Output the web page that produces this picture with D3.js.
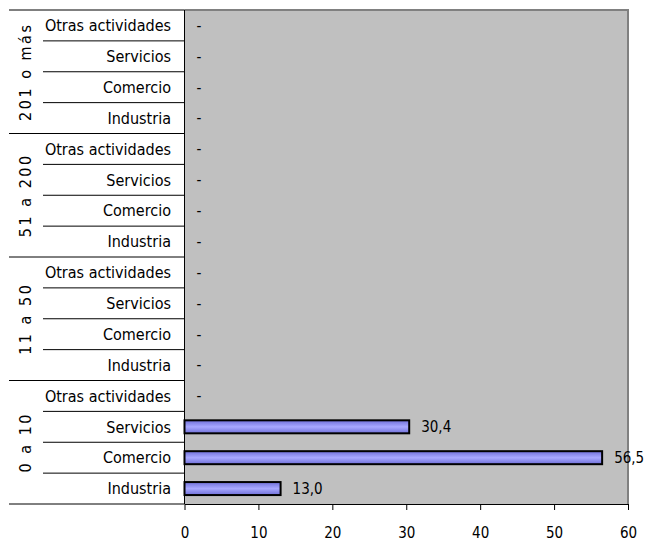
<!DOCTYPE html>
<html lang="es"><head><meta charset="UTF-8">
<title>Empresas por tamaño y actividad</title>
<script src="https://cdn.jsdelivr.net/npm/d3@7"></script>
<style>
  body { margin: 0; background: #fff; }
  text { font-family: "DejaVu Sans Condensed", "DejaVu Sans", sans-serif; font-size: 15px; fill: #000; }
</style>
</head>
<body>
<script>
// groups from top to bottom, categories from top to bottom within a group
var groups = ["201 o más", "51 a 200", "11 a 50", "0 a 10"];
var categories = ["Otras actividades", "Servicios", "Comercio", "Industria"];
// values per group, same order as categories
var values = {
  "201 o más": [0, 0, 0, 0],
  "51 a 200": [0, 0, 0, 0],
  "11 a 50": [0, 0, 0, 0],
  "0 a 10": [0, 30.4, 56.5, 13.0]
};
var xTicks = [0, 10, 20, 30, 40, 50, 60];

var w = 645, h = 542;
// plot area edges
var pLeft = 184.5, pRight = 628, pTop = 10, pBottom = 504;

var rows = [];
groups.forEach(function(g) {
  categories.forEach(function(c, i) {
    rows.push({ key: g + "|" + c, group: g, cat: c, value: values[g][i] });
  });
});

var svg = d3.select("body").append("svg")
  .attr("width", w).attr("height", h);

var defs = svg.append("defs");
var grad = defs.append("linearGradient").attr("id", "barGrad")
  .attr("x1", 0).attr("y1", 0).attr("x2", 0).attr("y2", 1);
grad.append("stop").attr("offset", "0%").attr("stop-color", "#6f6fd8");
grad.append("stop").attr("offset", "50%").attr("stop-color", "#a8a8ff");
grad.append("stop").attr("offset", "100%").attr("stop-color", "#6f6fd8");

var x = d3.scaleLinear().domain([0, 60]).range([pLeft, pRight]);
var y = d3.scaleBand().domain(rows.map(function(d) { return d.key; }))
  .range([pTop, pBottom]).paddingInner(0).paddingOuter(0);

// plot area
svg.append("rect")
  .attr("x", pLeft).attr("y", pTop)
  .attr("width", pRight - pLeft).attr("height", pBottom - pTop)
  .attr("fill", "#c0c0c0");
svg.append("path")
  .attr("d", "M" + pLeft + "," + pTop + "H" + pRight + "V" + pBottom)
  .attr("fill", "none").attr("stroke", "#808080").attr("stroke-width", 2);

// bars
var bh = 13;
svg.selectAll("rect.bar")
  .data(rows.filter(function(d) { return d.value > 0; }))
  .enter().append("rect")
  .attr("class", "bar")
  .attr("x", x(0))
  .attr("y", function(d) { return y(d.key) + y.bandwidth() / 2 - bh / 2; })
  .attr("width", function(d) { return x(d.value) - x(0); })
  .attr("height", bh)
  .attr("fill", "url(#barGrad)")
  .attr("stroke", "#000").attr("stroke-width", 2);

// value labels
svg.selectAll("text.val")
  .data(rows)
  .enter().append("text")
  .attr("class", "val")
  .attr("x", function(d) { return x(d.value) + 12; })
  .attr("y", function(d) { return y(d.key) + y.bandwidth() / 2; })
  .attr("dy", "0.36em")
  .text(function(d) { return d.value > 0 ? d3.format(".1f")(d.value).replace(".", ",") : "-"; });

// category labels
svg.selectAll("text.cat")
  .data(rows)
  .enter().append("text")
  .attr("class", "cat")
  .attr("x", pLeft - 13.5)
  .attr("y", function(d) { return y(d.key) + y.bandwidth() / 2; })
  .attr("dy", "0.36em")
  .attr("text-anchor", "end")
  .style("font-size", "16px")
  .text(function(d) { return d.cat; });

// separator lines on the left axis
rows.forEach(function(d, i) {
  var yy = y(d.key);
  var first = i % categories.length === 0;
  svg.append("line")
    .attr("x1", first ? 9 : 43).attr("x2", pLeft)
    .attr("y1", yy).attr("y2", yy)
    .attr("stroke", "#000").attr("stroke-width", 1);
});
svg.append("line")
  .attr("x1", 9).attr("x2", pLeft)
  .attr("y1", pBottom).attr("y2", pBottom)
  .attr("stroke", "#000");

// group labels
groups.forEach(function(g) {
  var y0 = y(g + "|" + categories[0]);
  var y1 = y(g + "|" + categories[categories.length - 1]) + y.bandwidth();
  var cy = (y0 + y1) / 2;
  svg.append("text")
    .attr("transform", "translate(25," + cy + ") rotate(-90)")
    .attr("text-anchor", "middle")
    .attr("dy", "0.36em")
    .style("font-size", "16px")
    .style("letter-spacing", "2.5px")
    .text(g);
});

// y axis line
svg.append("line")
  .attr("x1", pLeft).attr("x2", pLeft)
  .attr("y1", pTop).attr("y2", pBottom)
  .attr("stroke", "#000");

// x axis
var xAxis = svg.append("g")
  .attr("transform", "translate(0," + pBottom + ")")
  .call(d3.axisBottom(x).tickValues(xTicks).tickSize(6).tickSizeOuter(0).tickPadding(17));
xAxis.select(".domain").attr("stroke", "#000");
xAxis.selectAll("text").style("font-size", "15px")
  .style("font-family", "'DejaVu Sans Condensed', 'DejaVu Sans', sans-serif");
</script>
</body></html>
